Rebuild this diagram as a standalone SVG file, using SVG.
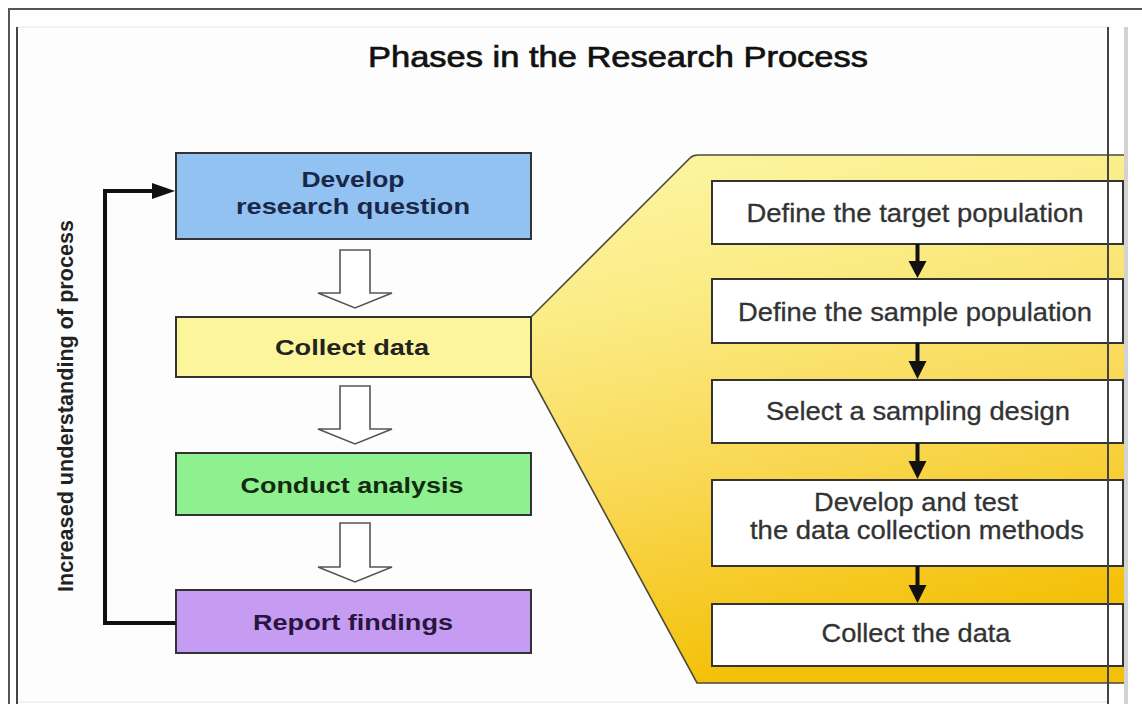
<svg xmlns="http://www.w3.org/2000/svg" width="1142" height="704" viewBox="0 0 1142 704">
<defs>
<linearGradient id="gold" x1="0" y1="0" x2="0.25" y2="1">
<stop offset="0" stop-color="#fdf6a6"/>
<stop offset="0.3" stop-color="#fbec86"/>
<stop offset="0.62" stop-color="#f9d957"/>
<stop offset="1" stop-color="#f4c10a"/>
</linearGradient>
<style>
.frame{fill:none;stroke:#555;stroke-width:2}
.box{stroke:#333;stroke-width:2}
.wbox{fill:#fff;stroke:#333;stroke-width:2}
.hollow{fill:#fff;stroke:#555;stroke-width:1.6;stroke-linejoin:miter}
.blk{fill:#111;stroke:none}
.bline{fill:none;stroke:#111;stroke-width:4}
.lbl{font-family:"Liberation Sans",Arial,sans-serif;font-weight:bold;font-size:22px;text-anchor:middle}
.rt{font-family:"Liberation Sans",Arial,sans-serif;font-size:25px;fill:#333;stroke:#333;stroke-width:0.3;text-anchor:middle}
</style>
</defs>
<rect x="0" y="0" width="1142" height="704" fill="#fff"/>
<rect x="17" y="27" width="1091" height="675" fill="#fdfdfd" stroke="#e6e6e6" stroke-width="1"/>
<text x="618" y="67" font-family="&quot;Liberation Sans&quot;,Arial,sans-serif" font-size="30" fill="#111" stroke="#111" stroke-width="0.7" text-anchor="middle" textLength="500" lengthAdjust="spacingAndGlyphs">Phases in the Research Process</text>

<g id="detail-panel">
<path d="M531,317 L690,158 Q693,155 698,155 L1125,155 L1125,683 L697,683 L531,377 Z" fill="url(#gold)" stroke="#4a4a3a" stroke-width="1.6"/>
</g>

<g id="develop-question">
<rect class="box" x="176" y="153" width="355" height="86" fill="#91c2f2"/>
<text class="lbl" x="353" y="187" fill="#1a2748" textLength="103" lengthAdjust="spacingAndGlyphs">Develop</text>
<text class="lbl" x="353" y="214" fill="#1a2748" textLength="234" lengthAdjust="spacingAndGlyphs">research question</text>
</g>
<g id="collect-data">
<rect class="box" x="176" y="317" width="355" height="60" fill="#fcf59c"/>
<text class="lbl" x="352" y="355" fill="#222" textLength="154" lengthAdjust="spacingAndGlyphs">Collect data</text>
</g>
<g id="conduct-analysis">
<rect class="box" x="176" y="453" width="355" height="62" fill="#8ef08e"/>
<text class="lbl" x="352" y="493" fill="#122a12" textLength="223" lengthAdjust="spacingAndGlyphs">Conduct analysis</text>
</g>
<g id="report-findings">
<rect class="box" x="176" y="590" width="355" height="63" fill="#c59cf2"/>
<text class="lbl" x="353" y="630" fill="#28163f" textLength="200" lengthAdjust="spacingAndGlyphs">Report findings</text>
</g>

<g id="define-target">
<rect class="wbox" x="712" y="181" width="411" height="63"/>
<text class="rt" x="915" y="222" textLength="337" lengthAdjust="spacingAndGlyphs">Define the target population</text>
</g>
<g id="define-sample">
<rect class="wbox" x="712" y="279" width="411" height="64"/>
<text class="rt" x="915" y="321" textLength="354" lengthAdjust="spacingAndGlyphs">Define the sample population</text>
</g>
<g id="sampling-design">
<rect class="wbox" x="712" y="380" width="411" height="63"/>
<text class="rt" x="918" y="420" textLength="304" lengthAdjust="spacingAndGlyphs">Select a sampling design</text>
</g>
<g id="develop-methods">
<rect class="wbox" x="712" y="480" width="411" height="86"/>
<text class="rt" x="916" y="511" textLength="204" lengthAdjust="spacingAndGlyphs">Develop and test</text>
<text class="rt" x="917" y="539" textLength="334" lengthAdjust="spacingAndGlyphs">the data collection methods</text>
</g>
<g id="collect-the-data">
<rect class="wbox" x="712" y="604" width="411" height="62"/>
<text class="rt" x="916" y="642" textLength="189" lengthAdjust="spacingAndGlyphs">Collect the data</text>
</g>

<g id="feedback-label">
<text transform="translate(73,406) rotate(-90)" x="0" y="0" font-family="&quot;Liberation Sans&quot;,Arial,sans-serif" font-weight="bold" font-size="22" fill="#222" text-anchor="middle" textLength="372" lengthAdjust="spacingAndGlyphs">Increased understanding of process</text>
</g>

<g id="connectors">
<path class="hollow" d="M340,250 L370,250 L370,293 L392,293 L355,308 L318,293 L340,293 Z"/>
<path class="hollow" d="M340,386 L370,386 L370,429 L392,429 L355,444 L318,429 L340,429 Z"/>
<path class="hollow" d="M340,523 L370,523 L370,567 L392,567 L355,582 L318,567 L340,567 Z"/>
<path class="bline" d="M176,623 L105,623 L105,191 L155,191"/>
<polygon class="blk" points="152,183 175,191 152,199"/>
<g>
<rect class="blk" x="915.5" y="244" width="4" height="18"/>
<polygon class="blk" points="908.5,261 926.5,261 917.5,278"/>
<rect class="blk" x="915.5" y="343" width="4" height="19"/>
<polygon class="blk" points="908.5,361 926.5,361 917.5,379"/>
<rect class="blk" x="915.5" y="443" width="4" height="19"/>
<polygon class="blk" points="908.5,461 926.5,461 917.5,479"/>
<rect class="blk" x="915.5" y="566" width="4" height="20"/>
<polygon class="blk" points="908.5,585 926.5,585 917.5,603"/>
</g>
</g>

<g id="frame">
<path class="frame" d="M9,704 L9,9 L1142,9"/>
<line x1="17" y1="27" x2="17" y2="704" stroke="#444" stroke-width="2"/>
<line x1="1108" y1="27" x2="1108" y2="704" stroke="#444" stroke-width="2"/>
<rect x="1124" y="27" width="4" height="677" fill="#d2d2d2"/>
</g>
</svg>
